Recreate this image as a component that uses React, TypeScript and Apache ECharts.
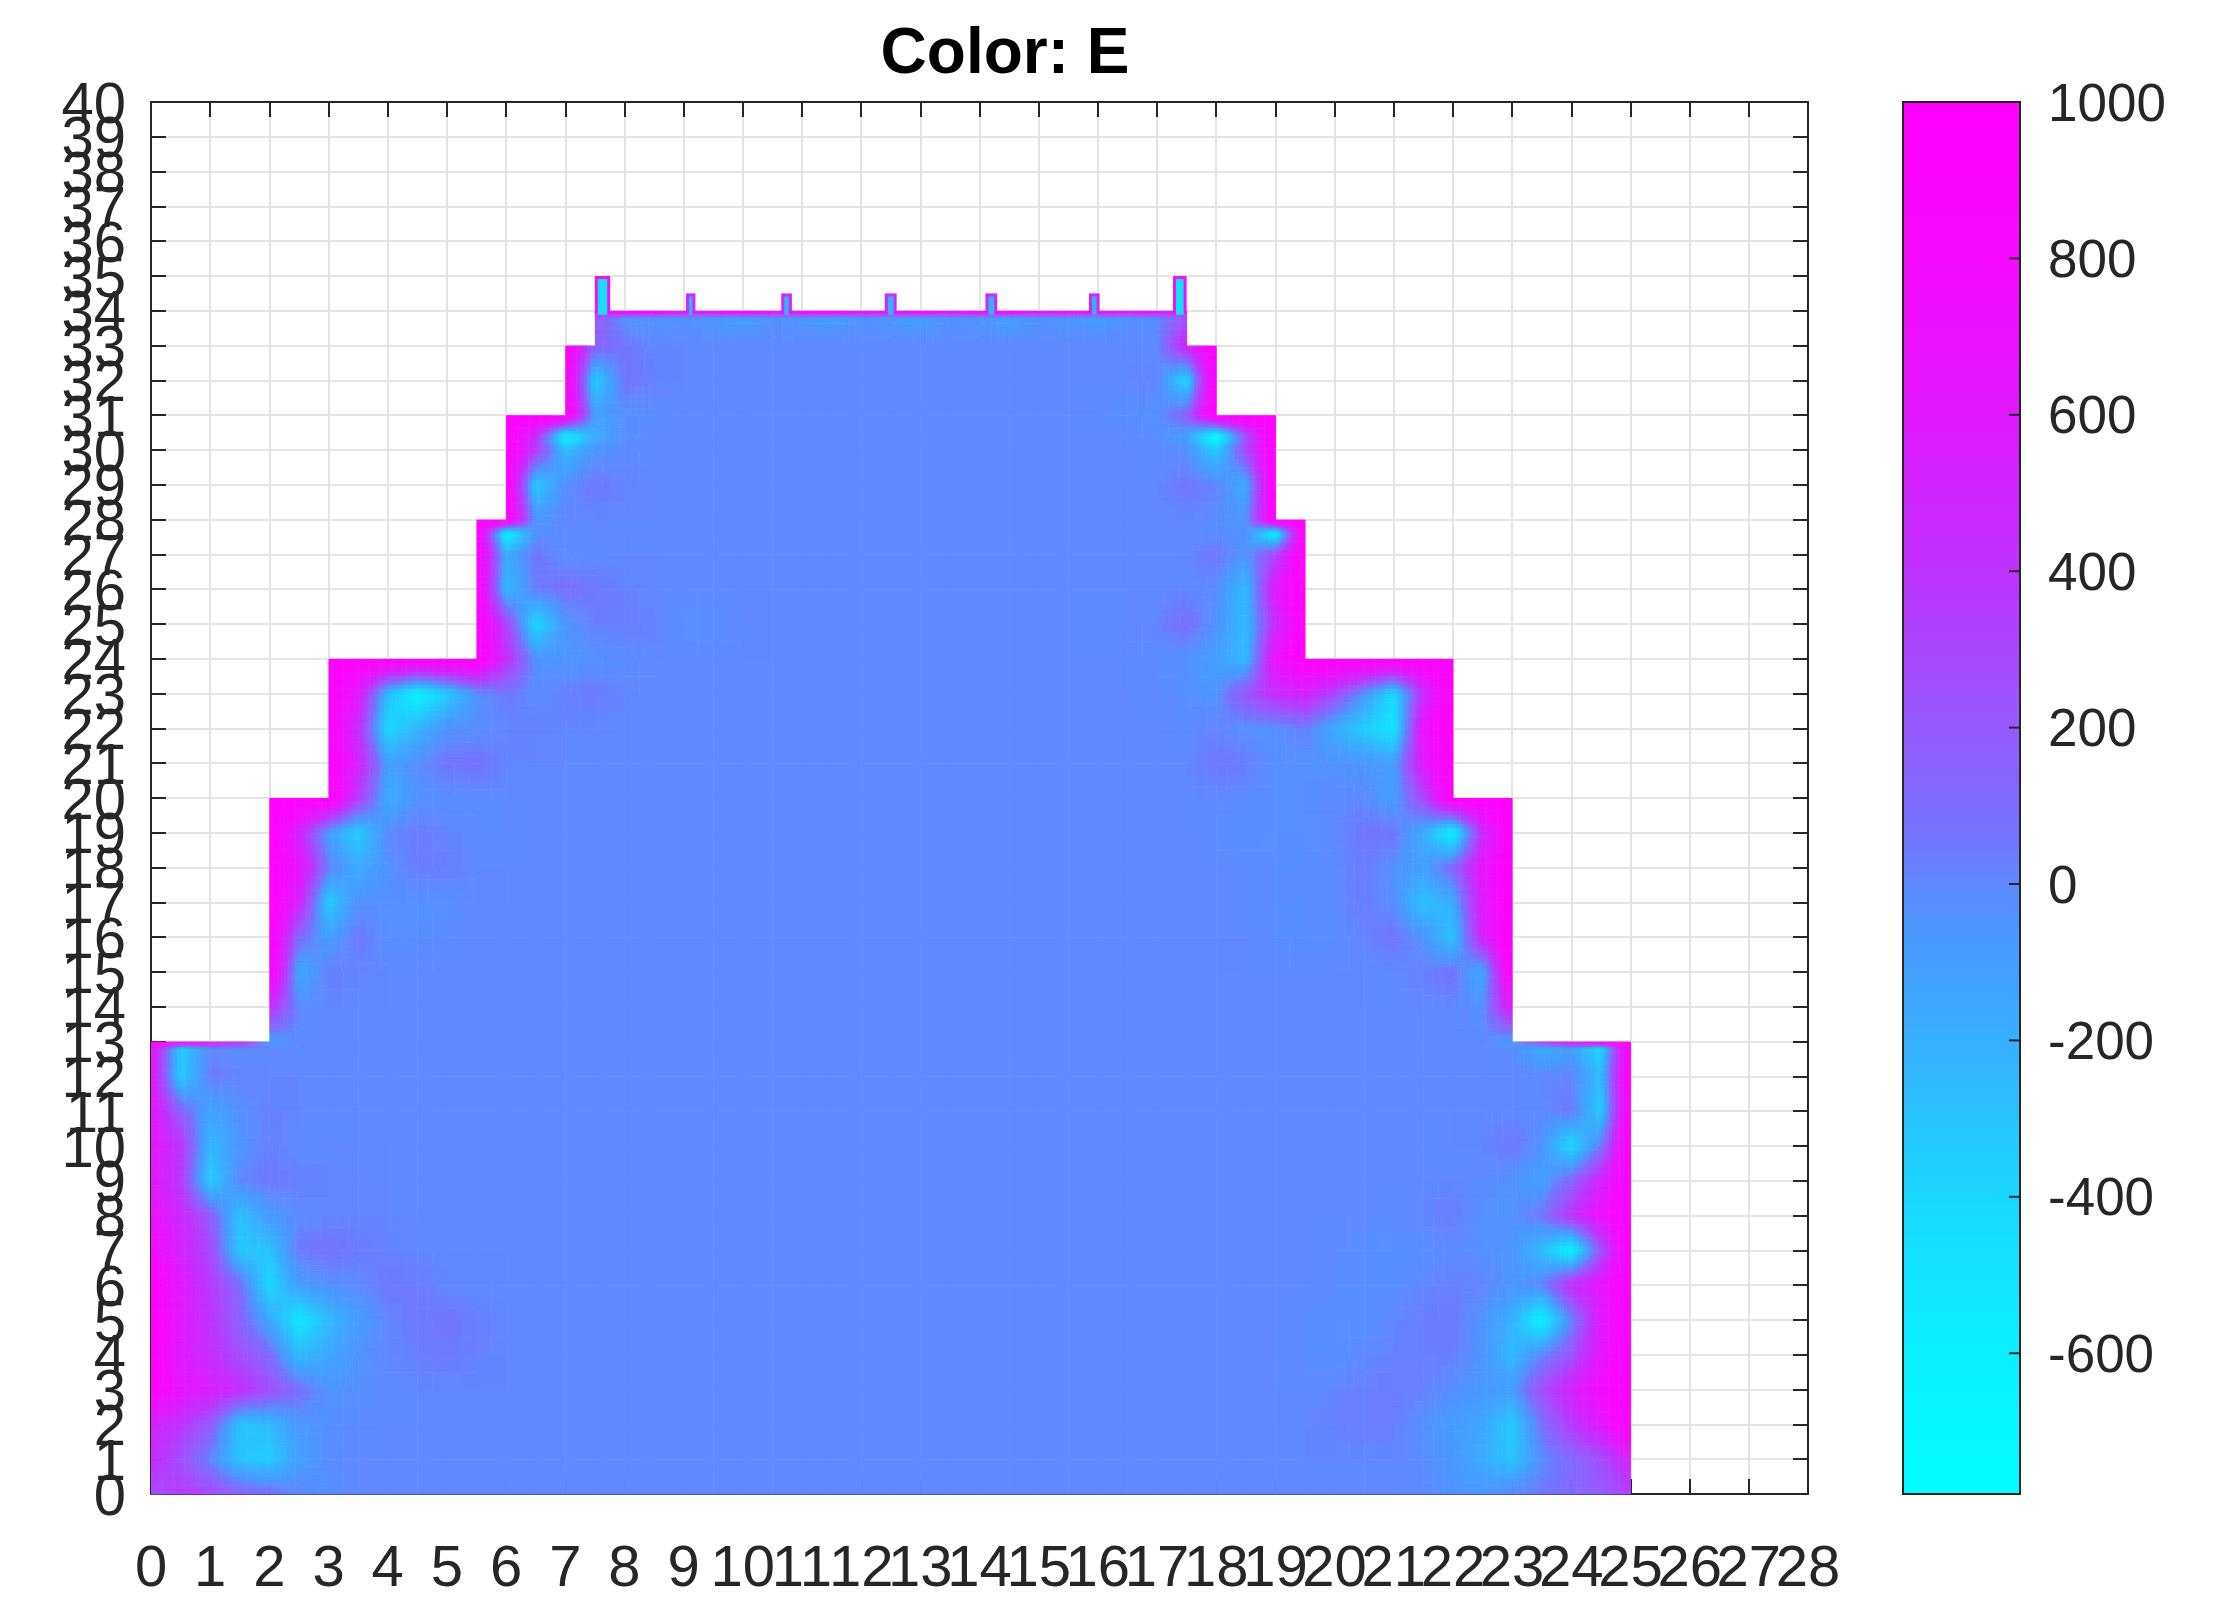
import { useEffect, useRef } from "react";
import * as echarts from "echarts";

const E_MIN = -780;
const E_MAX = 1000;
const E_BASE = 0;
const NODE_STEP = 0.5;

const xTicks = Array.from({ length: 29 }, (_, i) => i);
const yTicks = Array.from({ length: 41 }, (_, i) => i);
const colorbarTicks = [-600, -400, -200, 0, 200, 400, 600, 800, 1000];

// colormap: E, red, green
const mapValues = [-780, -600, -400, -200, -60, 0, 60, 200, 400, 600, 800, 1000];
const mapRed = [0, 10, 25, 55, 75, 96, 115, 150, 190, 225, 245, 255];
const mapGreen = [255, 240, 215, 175, 150, 136, 115, 90, 50, 25, 10, 0];

// outline of the part, one step per entry
const stairTops = [13, 20, 24, 28, 31, 33, 34];
const stairLeft = [0, 2, 3, 5.5, 6, 7, 7.5];
const stairRight = [25, 23, 22, 19.5, 19, 18, 17.5];

const yNodes = [
  0, 1, 2, 3, 4, 5, 6, 7, 8, 9, 10, 11, 12, 12.8, 13, 14, 15, 16, 17, 18, 19, 20, 21, 22, 23, 24,
  25, 26, 27, 27.6, 28, 29, 30, 30.4, 31, 32, 33, 33.8, 34,
];

// E, from the left edge of each row going inwards
const leftBands = [
  [260, 365, 295, 160, 100, 5, -40, 0],
  [445, 260, 5, -300, -350, -110, -22],
  [525, 405, 190, -300, -260, -65, -32, -12],
  [1000, 650, 565, 445, 260, 85, -50, -36, -12],
  [1000, 605, 445, 260, 110, -260, -150, -45, 0, 25, 40, 25, 5],
  [1000, 605, 405, 160, -150, -500, -260, -90, 0, 50, 60, 30, 0],
  [1000, 605, 365, 110, -420, -100, -32, -12, 50, 40, 0, -6],
  [800, 525, 295, -330, -300, 50, 65, 40, 20, 0],
  [700, 485, 190, -300, -80, -12, 5, 10, 5],
  [650, 365, -350, 5, 50, 25, 10, 10],
  [650, 405, -250, -60, 25, -12, -12],
  [650, 160, -150, -30, 25, 5],
  [650, -350, 40, 15, 0],
  [700, -350, -6, -22, 0],
  [1000, 1000, 650, 525, -110, -6],
  [445, -12, 0],
  [1000, -180, 35, 10, 0],
  [1000, 110, -110, 50, -32, -26, -12],
  [1000, 525, -350, -32, -32, -40, -30, 0],
  [1000, 700, 30, -180, -40, 35, 30, -6],
  [1000, 525, -110, -350, -6, 40, 10, -16, -12],
  [1000, 1000, 1000, 365, -180, -40, -30, -16, -6],
  [1000, 525, -110, -22, 60, 70, 15, 5, 0],
  [1000, 445, -420, -230, -40, -30, 5, 25, 5],
  [1000, 605, -260, -600, -350, -40, 50, -22, 25, 45, 5],
  [1000, 1000, 1000, 1000, 1000, 1000, 445, -40, -60, -40, -22],
  [1000, 330, -420, -60, 25, 30, 20, -32, -30, -6],
  [1000, -260, 30, 85, 50, 20, 0],
  [1000, -180, 60, -22, -12, 0],
  [1000, -600, -40, -12, -6, 0],
  [1000, 1000, -60, 5, 0],
  [1000, -350, -22, 50, 15, 5],
  [1000, 365, -260, -50, -22, 0],
  [1000, 445, -600, -180, -22, 0],
  [1000, 1000, 1000, -110, -40, -22, 0],
  [1000, -350, 65, 25, 0],
  [1000, 160, 50, 5, 0],
  [
    225, -40, -60, -40, -60, -110, -40, -60, -110, -40, -60, -110, -40, -60, -110, -40, -60, -90,
    -40, -22, 225,
  ],
  [
    700, 1000, 1000, 700, 800, 1000, 800, 900, 1000, 800, 900, 1000, 800, 900, 1000, 800, 900, 900,
    800, 800, 700,
  ],
];

// same rows, from the right edge going inwards
const rightBands = [
  [330, 190, 120, 50, 5, -60, -50, 0],
  [525, 260, 110, -22, -300, -180, -70, -16, 5, 0],
  [1000, 605, 365, 75, -350, -150, -90, -40, 30, 30, 25, 5],
  [1000, 800, 525, 260, -90, -70, -30, 25, 35, 25, 5, -12],
  [1000, 650, 225, 5, -260, -50, 25, 25, 20, -6, -32, -16],
  [1000, 605, 5, -600, -200, -60, 48, 30, 5, -30, -32, -22],
  [1000, 650, 445, 5, -60, 15, 25, 5, -30, -30, -12],
  [1000, 225, -600, -260, -50, -36, -12, -30, -36, -30, -12, 0],
  [1000, 700, 405, 50, -45, -36, 35, 10, -12],
  [1000, 525, 135, -110, -45, -16, 5, -12],
  [1000, 50, -420, -45, 55, 5, -12],
  [1000, -350, 50, -12, -6],
  [1000, -260, 15, 5],
  [1000, -420, -110, -180, -12],
  [1000, 1000, 700, 365, -110, 0],
  [605, -40, 0],
  [1000, -180, 75, 25, -6, -6],
  [1000, 525, -300, -45, 60, 15, -22, -30, -22, -6],
  [1000, 605, -180, -300, -22, 35, -6, -26, -22, -12],
  [1000, 650, 135, -110, -40, 40, -12, -22, -12],
  [1000, 445, -600, -180, 60, 55, -6, -32, -36, -32, -22],
  [1000, 1000, 1000, 295, -110, -6, -12, -22, -22, -16, -6],
  [1000, 605, -110, -60, -40, -40, -30, 35, 55, 0],
  [1000, 700, -500, -350, -180, 30, -40, -32, 15, -12],
  [1000, 445, -420, -60, 295, 525, 445, 225, -50, -30, -12],
  [1000, 1000, 1000, 1000, 1000, 1000, 700, -260, -110, -40, -16],
  [1000, 445, -260, -40, 85, 15, -6, -16],
  [1000, 605, -260, -12, 0],
  [1000, 295, -60, 60, 0],
  [1000, -600, -32, -22, 0],
  [1000, 1000, -60, -22, 5],
  [1000, -180, 15, 55, 0],
  [1000, 295, -350, -22, -12, 0],
  [1000, 225, -700, -110, -22, 0],
  [1000, 1000, 1000, 160, -45, -32, -16, 0],
  [1000, -420, 15, 5],
  [1000, 525, -16],
  [],
  [],
];

// little spikes on the top edge
const towerLeft = [7.5, 9.04, 10.65, 12.4, 14.1, 15.85, 17.27];
const towerRight = [7.76, 9.2, 10.83, 12.6, 14.3, 16.03, 17.5];
const towerTop = [35, 34.5, 34.5, 34.5, 34.5, 34.5, 35];
const towerEdge = [700, 500, 500, 500, 500, 500, 700];
const towerCore = [-450, -200, -200, -200, -200, -200, -450];

function coolColor(value: number) {
  const v = Math.min(E_MAX, Math.max(E_MIN, value));
  let k = 0;
  while (k < mapValues.length - 2 && v > mapValues[k + 1]) {
    k++;
  }
  const t = (v - mapValues[k]) / (mapValues[k + 1] - mapValues[k]);
  const r = Math.round(mapRed[k] + (mapRed[k + 1] - mapRed[k]) * t);
  const g = Math.round(mapGreen[k] + (mapGreen[k + 1] - mapGreen[k]) * t);
  return `rgb(${r},${g},255)`;
}

function stepIndex(y: number) {
  return stairTops.findIndex((top) => y <= top);
}

function nodeValue(row: number, x: number) {
  const y = yNodes[row];
  const step = stepIndex(y);
  const fromLeft = Math.round((x - stairLeft[step]) / NODE_STEP);
  const fromRight = Math.round((stairRight[step] - x) / NODE_STEP);
  if (fromLeft < leftBands[row].length) {
    return leftBands[row][fromLeft];
  }
  if (fromRight < rightBands[row].length) {
    return rightBands[row][fromRight];
  }
  return E_BASE;
}

function buildCells() {
  const cells: number[][] = [];
  for (let row = 0; row < yNodes.length - 1; row++) {
    const y0 = yNodes[row];
    const y1 = yNodes[row + 1];
    const step = stepIndex(y1);
    for (let x0 = stairLeft[step]; x0 < stairRight[step]; x0 += NODE_STEP) {
      const x1 = x0 + NODE_STEP;
      cells.push([
        x0,
        x1,
        y0,
        y1,
        nodeValue(row, x0),
        nodeValue(row, x1),
        nodeValue(row + 1, x0),
        nodeValue(row + 1, x1),
      ]);
    }
  }
  return cells;
}

// interpolated shading of one mesh cell, like shading interp
function renderCell(_params: any, api: any) {
  const x0 = api.value(0);
  const x1 = api.value(1);
  const y0 = api.value(2);
  const y1 = api.value(3);
  const e00 = api.value(4);
  const e10 = api.value(5);
  const e01 = api.value(6);
  const e11 = api.value(7);
  const topLeft = api.coord([x0, y1]);
  const bottomRight = api.coord([x1, y0]);
  const width = bottomRight[0] - topLeft[0];
  const height = bottomRight[1] - topLeft[1];
  const spread = Math.max(e00, e10, e01, e11) - Math.min(e00, e10, e01, e11);
  const divisions = Math.min(8, Math.max(1, Math.ceil(spread / 25)));
  const children = [];
  for (let i = 0; i < divisions; i++) {
    for (let j = 0; j < divisions; j++) {
      const u = (i + 0.5) / divisions;
      const v = (j + 0.5) / divisions;
      const value =
        e00 * (1 - u) * v + e10 * u * v + e01 * (1 - u) * (1 - v) + e11 * u * (1 - v);
      children.push({
        type: "rect",
        shape: {
          x: topLeft[0] + (i * width) / divisions,
          y: topLeft[1] + (j * height) / divisions,
          width: width / divisions + 0.5,
          height: height / divisions + 0.5,
        },
        style: { fill: coolColor(value) },
      });
    }
  }
  return { type: "group", children };
}

function renderTower(params: any, api: any) {
  const i = params.dataIndex;
  const topLeft = api.coord([api.value(0), api.value(2)]);
  const bottomRight = api.coord([api.value(1), 34]);
  const width = bottomRight[0] - topLeft[0];
  const height = bottomRight[1] - topLeft[1];
  return {
    type: "group",
    children: [
      {
        type: "rect",
        shape: { x: topLeft[0], y: topLeft[1], width, height: height + 1 },
        style: { fill: coolColor(towerEdge[i]) },
      },
      {
        type: "rect",
        shape: {
          x: topLeft[0] + 3,
          y: topLeft[1] + 3,
          width: width - 6,
          height: height + 1,
        },
        style: { fill: coolColor(towerCore[i]) },
      },
    ],
  };
}

function renderColorbar(_params: any, api: any) {
  const topLeft = api.coord([0, E_MAX]);
  const bottomRight = api.coord([1, E_MIN]);
  const span = E_MAX - E_MIN;
  const stops = mapValues
    .map((value) => ({ offset: (E_MAX - value) / span, color: coolColor(value) }))
    .reverse();
  const ticks = colorbarTicks.map((tick) => {
    const y = api.coord([1, tick])[1];
    return {
      type: "line",
      shape: { x1: bottomRight[0] - 11, y1: y, x2: bottomRight[0], y2: y },
      style: { stroke: "#262626", lineWidth: 2 },
    };
  });
  return {
    type: "group",
    children: [
      {
        type: "rect",
        shape: {
          x: topLeft[0],
          y: topLeft[1],
          width: bottomRight[0] - topLeft[0],
          height: bottomRight[1] - topLeft[1],
        },
        style: {
          fill: new echarts.graphic.LinearGradient(0, 0, 0, 1, stops),
          stroke: "#262626",
          lineWidth: 2,
        },
      },
      ...ticks,
    ],
  };
}

const FONT = "Liberation Sans";
const AXIS_COLOR = "#262626";
const GRID_COLOR = "#e4e4e4";

// drawn as a series: the axis' own labels drop neighbours that overlap
function renderXLabel(_params: any, api: any) {
  const value = api.value(0);
  const point = api.coord([value, 0]);
  return {
    type: "text",
    x: point[0],
    y: point[1] + 71,
    style: {
      text: String(value),
      fontFamily: FONT,
      fontSize: 58,
      fill: AXIS_COLOR,
      align: "center",
      verticalAlign: "middle",
    },
  };
}

function renderYLabel(_params: any, api: any) {
  const value = api.value(1);
  const point = api.coord([0, value]);
  return {
    type: "text",
    x: point[0] - 25,
    y: point[1],
    style: {
      text: String(value),
      fontFamily: FONT,
      fontSize: 58,
      fill: AXIS_COLOR,
      align: "right",
      verticalAlign: "middle",
    },
  };
}

function boxAxis(position: string, extra: object) {
  return {
    type: "value",
    position,
    axisLine: { show: true, onZero: false, lineStyle: { color: AXIS_COLOR, width: 2 } },
    axisTick: { show: true, inside: true, length: 15, lineStyle: { color: AXIS_COLOR, width: 2 } },
    axisLabel: { show: false },
    ...extra,
  };
}

const option: any = {
  animation: false,
  backgroundColor: "#ffffff",
  title: {
    text: "Color: E",
    left: 1000,
    top: 14,
    textAlign: "center",
    textStyle: { fontFamily: FONT, fontSize: 64, fontWeight: "bold", color: "#000000" },
  },
  grid: [
    { left: 151, right: 406, top: 102, bottom: 123 },
    { left: 1903, right: 194, top: 102, bottom: 123 },
  ],
  xAxis: [
    boxAxis("bottom", {
      min: 0,
      max: 28,
      interval: 1,
      splitLine: { show: true, lineStyle: { color: GRID_COLOR, width: 2 } },
    }),
    boxAxis("top", { min: 0, max: 28, interval: 1, splitLine: { show: false } }),
    { type: "value", gridIndex: 1, min: 0, max: 1, show: false, splitLine: { show: false } },
  ],
  yAxis: [
    boxAxis("left", {
      min: 0,
      max: 40,
      interval: 1,
      splitLine: { show: true, lineStyle: { color: GRID_COLOR, width: 2 } },
    }),
    boxAxis("right", { min: 0, max: 40, interval: 1, splitLine: { show: false } }),
    {
      type: "value",
      gridIndex: 1,
      position: "right",
      min: E_MIN,
      max: E_MAX,
      axisLine: { show: false },
      axisTick: { show: false },
      axisLabel: {
        margin: 28,
        fontFamily: FONT,
        fontSize: 53,
        color: AXIS_COLOR,
        customValues: colorbarTicks,
        formatter: (value: number) => String(value),
      },
      splitLine: { show: false },
    },
  ],
  series: [
    {
      type: "custom",
      xAxisIndex: 0,
      yAxisIndex: 0,
      silent: true,
      clip: false,
      progressive: 0,
      renderItem: renderCell,
      encode: { x: [0, 1], y: [2, 3] },
      data: buildCells(),
    },
    {
      type: "custom",
      xAxisIndex: 0,
      yAxisIndex: 0,
      silent: true,
      clip: false,
      renderItem: renderTower,
      encode: { x: [0, 1], y: [2] },
      data: towerLeft.map((left, i) => [left, towerRight[i], towerTop[i]]),
    },
    {
      type: "custom",
      xAxisIndex: 2,
      yAxisIndex: 2,
      silent: true,
      clip: false,
      renderItem: renderColorbar,
      encode: { x: [0], y: [1] },
      data: [[0, E_MIN]],
    },
    {
      type: "custom",
      xAxisIndex: 0,
      yAxisIndex: 0,
      silent: true,
      clip: false,
      renderItem: renderXLabel,
      encode: { x: [0], y: [1] },
      data: xTicks.map((tick) => [tick, 0]),
    },
    {
      type: "custom",
      xAxisIndex: 0,
      yAxisIndex: 0,
      silent: true,
      clip: false,
      renderItem: renderYLabel,
      encode: { x: [0], y: [1] },
      data: yTicks.map((tick) => [0, tick]),
    },
  ],
};

export default function App() {
  const chartRef = useRef<HTMLDivElement>(null);

  useEffect(() => {
    if (!chartRef.current) {
      return;
    }
    const chart = echarts.init(chartRef.current, undefined, { renderer: "svg" });
    chart.setOption(option);
    return () => {
      chart.dispose();
    };
  }, []);

  return (
    <div
      ref={chartRef}
      style={{ position: "absolute", left: 0, top: 0, width: 2214, height: 1617 }}
    />
  );
}
